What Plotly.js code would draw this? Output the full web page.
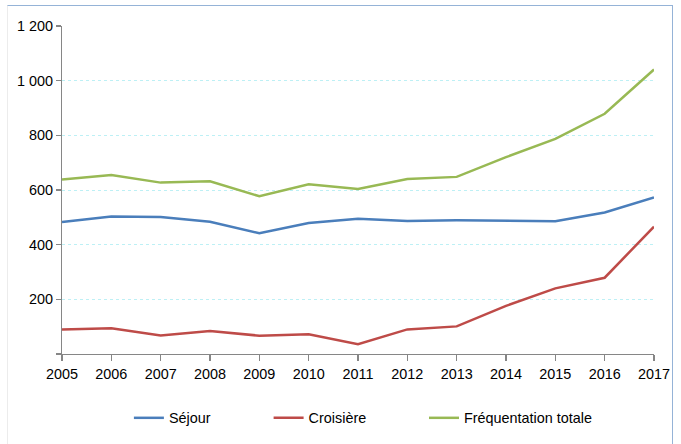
<!DOCTYPE html>
<html>
<head>
<meta charset="utf-8">
<script src="https://cdn.plot.ly/plotly-3.0.1.min.js"></script>
<style>
html,body{margin:0;padding:0;background:#fff;}
#wrap{position:relative;width:681px;height:444px;overflow:hidden;}
#frame{position:absolute;left:7px;top:5px;width:666px;height:460px;border-top:1.5px solid #95b3d7;border-right:1.5px solid #95b3d7;border-left:1px solid #ececec;box-sizing:border-box;pointer-events:none;z-index:5;}
#chart{position:absolute;left:0;top:0;width:681px;height:444px;}
</style>
</head>
<body>
<div id="wrap">
<div id="chart"></div>
<div id="frame"></div>
</div>
<script>
const years = [2005, 2006, 2007, 2008, 2009, 2010, 2011, 2012, 2013, 2014, 2015, 2016, 2017];
const sejour = [483, 503, 501, 484, 442, 479, 495, 487, 489, 488, 486, 518, 573];
const croisiere = [90, 94, 68, 84, 67, 72, 36, 90, 101, 176, 240, 279, 466];
const frequentation = [638, 655, 627, 632, 577, 621, 604, 640, 648, 720, 787, 879, 1041];
const seriesNames = ['Séjour', 'Croisière', 'Fréquentation totale'];
const yTickVals = [0, 200, 400, 600, 800, 1000, 1200];
const yTickText = ['', '200', '400', '600', '800', '1 000', '1 200'];

const colors = ['#4a7ebb', '#be4b48', '#98b954'];
const font = {family: '"Liberation Sans", Arial, sans-serif', size: 14.4, color: '#000'};

const traces = [sejour, croisiere, frequentation].map((vals, i) => ({
  x: years, y: vals, type: 'scatter', mode: 'lines', name: seriesNames[i],
  line: {color: colors[i], width: 2.5},
  legend: i === 0 ? 'legend' : 'legend' + (i + 1),
  hoverinfo: 'x+y+name'
}));

const legendBase = {orientation: 'h', yanchor: 'middle', xanchor: 'left', y: -0.195,
  font: font, bgcolor: 'rgba(0,0,0,0)', borderwidth: 0};

const layout = {
  width: 681, height: 444,
  margin: {l: 62, r: 27, t: 26, b: 90, autoexpand: false},
  paper_bgcolor: '#fff', plot_bgcolor: '#fff',
  font: font,
  showlegend: true,
  legend: Object.assign({}, legendBase, {x: 0.113}),
  legend2: Object.assign({}, legendBase, {x: 0.349}),
  legend3: Object.assign({}, legendBase, {x: 0.6115}),
  xaxis: {
    range: [2005, 2017], tickvals: years, ticktext: years.map(String),
    showline: true, linecolor: '#868686', linewidth: 1.2,
    ticks: 'outside', ticklen: 6, tickcolor: '#868686', tickwidth: 1.2,
    ticklabelstandoff: 1, automargin: false,
    showgrid: false, zeroline: false, tickfont: font, fixedrange: true
  },
  yaxis: {
    range: [0, 1200], tickvals: yTickVals, ticktext: yTickText,
    showline: true, linecolor: '#868686', linewidth: 1.2,
    ticks: 'outside', ticklen: 5, tickcolor: '#868686', tickwidth: 1.2,
    showgrid: true, gridcolor: '#bdf0f5', griddash: 'dot', gridwidth: 1,
    zeroline: false, tickfont: font, fixedrange: true, automargin: false
  }
};

Plotly.newPlot('chart', traces, layout, {displayModeBar: false, staticPlot: true});
</script>
</body>
</html>
